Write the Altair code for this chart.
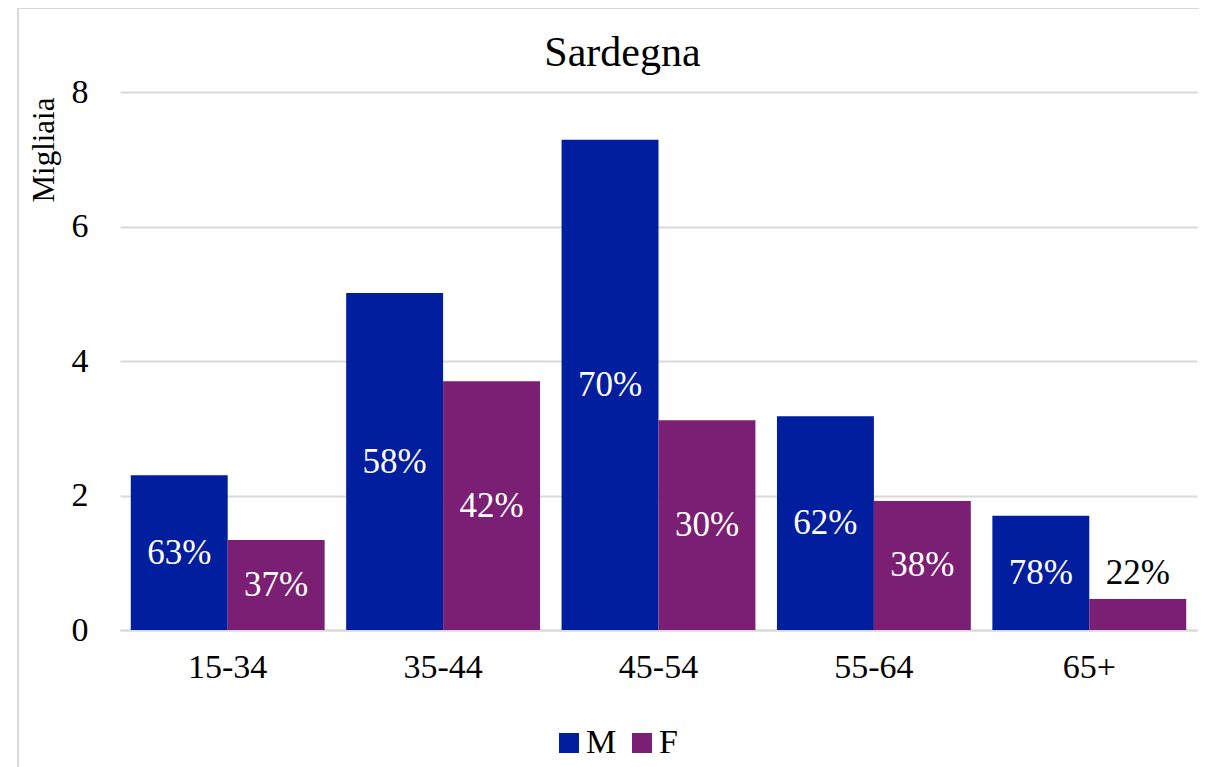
import altair as alt
import pandas as pd

ages = ["15-34", "35-44", "45-54", "55-64", "65+"]
m_vals = [2.30, 5.01, 7.29, 3.18, 1.70]
f_vals = [1.34, 3.70, 3.12, 1.92, 0.46]
m_pct = ["63%", "58%", "70%", "62%", "78%"]
f_pct = ["37%", "42%", "30%", "38%", "22%"]
sexes = ["M", "F"]
colors = ["#001E9E", "#7B1F74"]

rows = []
for a, v, p in zip(ages, m_vals, m_pct):
    rows.append({"age": a, "sex": "M", "value": v, "pct": p})
for a, v, p in zip(ages, f_vals, f_pct):
    rows.append({"age": a, "sex": "F", "value": v, "pct": p})
df = pd.DataFrame(rows)

FONT = "Liberation Serif"

x_axis = alt.Axis(labelAngle=0, ticks=False, domain=True, domainColor="#d9d9d9",
                  domainWidth=2, labelFontSize=34, labelFont=FONT,
                  labelColor="#000000", labelPadding=20, grid=False)
x_scale = alt.Scale(paddingInner=0.1, paddingOuter=0.05)
y_axis = alt.Axis(values=[0, 2, 4, 6, 8], format="d", ticks=False, domain=False,
                  gridColor="#d9d9d9", gridWidth=2,
                  labelFontSize=34, labelFont=FONT, labelColor="#000000",
                  labelPadding=32, titleFontSize=31, titleFont=FONT,
                  titleFontWeight="normal", titleColor="#000000",
                  titleAnchor="end", titlePadding=11, titleY=5)
y_scale = alt.Scale(domain=[0, 8])
xo_enc = alt.XOffset("sex:N", sort=sexes)

base = alt.Chart(df)

bars = base.mark_bar().encode(
    x=alt.X("age:N", sort=ages, title=None, scale=x_scale, axis=x_axis),
    xOffset=xo_enc,
    y=alt.Y("value:Q", title="Migliaia", scale=y_scale, axis=y_axis),
    color=alt.Color("sex:N", sort=sexes,
                    scale=alt.Scale(domain=sexes, range=colors),
                    legend=alt.Legend(title=None, orient="none", legendX=432, legendY=634,
                                      direction="horizontal", symbolType="square",
                                      symbolSize=400, symbolStrokeWidth=0,
                                      labelFontSize=34, labelFont=FONT,
                                      labelColor="#000000", labelOffset=0,
                                      columnPadding=8)),
)

inside = base.transform_filter("datum.value >= 1").transform_calculate(
    mid="datum.value / 2"
).mark_text(font=FONT, fontSize=35, color="white", baseline="middle").encode(
    x=alt.X("age:N", sort=ages, title=None, scale=x_scale, axis=x_axis),
    xOffset=xo_enc,
    y=alt.Y("mid:Q", title="Migliaia", scale=y_scale, axis=y_axis),
    text="pct:N",
)

outside = base.transform_filter("datum.value < 1").mark_text(
    font=FONT, fontSize=35, color="black", baseline="middle", dy=-26
).encode(
    x=alt.X("age:N", sort=ages, title=None, scale=x_scale, axis=x_axis),
    xOffset=xo_enc,
    y=alt.Y("value:Q", title="Migliaia", scale=y_scale, axis=y_axis),
    text="pct:N",
)

border = alt.Chart(alt.Data(values=[{}])).mark_rect(
    fill=None, stroke="#d9d9d9", strokeWidth=2
).encode(
    x=alt.value(-102), x2=alt.value(1120), y=alt.value(-84), y2=alt.value(700)
)

chart = alt.layer(border, bars, inside, outside).properties(
    width=1077, height=538,
    background="white",
    title=alt.Title("Sardegna", fontSize=42, font=FONT, fontWeight="normal",
                    color="#000000", offset=16, dx=-36, dy=84, anchor="middle"),
    autosize=alt.AutoSizeParams(type="none"),
    padding={"left": 112, "top": 84, "right": 2, "bottom": 137},
).configure_view(stroke=None)

chart.save("out.html", embed_options={"renderer": "svg", "actions": False})
